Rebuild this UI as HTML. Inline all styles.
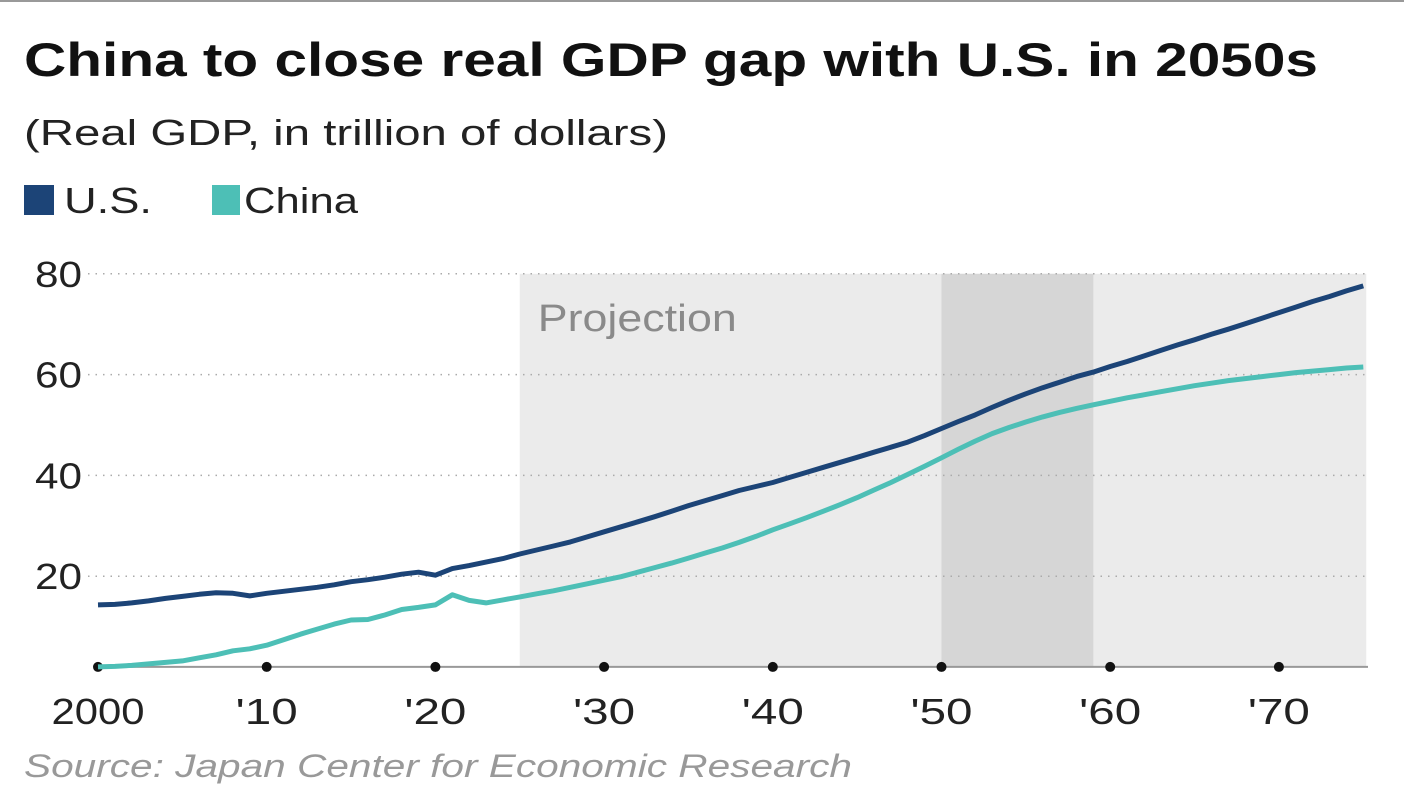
<!DOCTYPE html>
<html><head><meta charset="utf-8"><style>
body{margin:0;background:#fff;width:1404px;height:784px;overflow:hidden;font-family:"Liberation Sans",sans-serif}
</style></head><body>
<svg width="1404" height="784" xmlns="http://www.w3.org/2000/svg" font-family="Liberation Sans, sans-serif">
<line x1="0" y1="1" x2="1404" y2="1" stroke="#999" stroke-width="2"/>
<text x="24" y="76" font-size="47" font-weight="bold" fill="#111" textLength="1294" lengthAdjust="spacingAndGlyphs">China to close real GDP gap with U.S. in 2050s</text>
<text x="24" y="145" font-size="36" fill="#222" textLength="644" lengthAdjust="spacingAndGlyphs">(Real GDP, in trillion of dollars)</text>
<g>
<rect x="24" y="185" width="30" height="30" fill="#1c4477"/>
<text x="64" y="213" font-size="36" fill="#222" textLength="88" lengthAdjust="spacingAndGlyphs">U.S.</text>
<rect x="212" y="185" width="28" height="30" fill="#4dbfb6"/>
<text x="244" y="213" font-size="36" fill="#222" textLength="114" lengthAdjust="spacingAndGlyphs">China</text>
</g>
<g id="plot"></g>
<text x="24" y="777" font-size="32" font-style="italic" fill="#999" textLength="828" lengthAdjust="spacingAndGlyphs">Source: Japan Center for Economic Research</text>
</svg>
<script>
const years=[];for(let y=2000;y<=2075;y++)years.push(y);
const usValues=[14.3,14.4,14.7,15.1,15.6,16.0,16.4,16.7,16.6,16.1,16.6,17.0,17.4,17.8,18.3,18.9,19.3,19.8,20.4,20.8,20.2,21.5,22.1,22.8,23.5,24.4,25.2,26.0,26.8,27.8,28.8,29.8,30.8,31.8,32.9,34.0,35.0,36.0,37.0,37.8,38.6,39.6,40.6,41.6,42.6,43.6,44.6,45.6,46.6,47.9,49.3,50.7,52.0,53.5,54.9,56.2,57.4,58.5,59.6,60.5,61.6,62.6,63.7,64.8,65.9,66.9,68.0,69.0,70.1,71.2,72.3,73.4,74.5,75.5,76.6,77.6];
const chinaValues=[2.0,2.1,2.3,2.6,2.9,3.2,3.8,4.4,5.2,5.6,6.3,7.4,8.5,9.5,10.5,11.3,11.4,12.3,13.4,13.8,14.3,16.3,15.2,14.7,15.3,15.9,16.5,17.1,17.8,18.5,19.2,19.9,20.8,21.7,22.6,23.6,24.6,25.6,26.7,27.9,29.2,30.4,31.6,32.9,34.2,35.6,37.1,38.6,40.2,41.8,43.5,45.2,46.8,48.3,49.5,50.6,51.6,52.5,53.3,54.0,54.7,55.4,56.0,56.6,57.2,57.8,58.3,58.8,59.2,59.6,60.0,60.4,60.7,61.0,61.3,61.5];
const yTicks=[20,40,60,80];
const xTicks=[2000,2010,2020,2030,2040,2050,2060,2070];
const xTickLabels=["2000","'10","'20","'30","'40","'50","'60","'70"];
const projectionStart=2025, highlightStart=2050, highlightEnd=2059;
const NS="http://www.w3.org/2000/svg";
const x=v=>98+(v-2000)*16.87;
const y=v=>677-v*5.04;
const g=document.getElementById('plot');
function mk(t,a){const e=document.createElementNS(NS,t);for(const k in a)e.setAttribute(k,a[k]);g.appendChild(e);return e;}
let r=mk('rect',{x:x(projectionStart),y:y(80),width:x(2075)-x(projectionStart)+3,height:y(2)-y(80),fill:'#ebebeb'});


r=mk('rect',{x:x(highlightStart),y:y(80),width:x(highlightEnd)-x(highlightStart),height:y(2)-y(80),fill:'#d6d6d6'});


let t=mk('text',{x:x(projectionStart)+18,y:y(80)+57,'font-size':38,fill:'#8a8a8a',textLength:199,lengthAdjust:'spacingAndGlyphs'});t.textContent='Projection';


yTicks.forEach(v=>{
 let l=mk('line',{x1:88,x2:1368,y1:y(v),y2:y(v),stroke:'#aaa','stroke-width':1.5,'stroke-dasharray':'1.5 6'});
 
 
 let tx=mk('text',{x:82,y:y(v)+13,'font-size':36,fill:'#222','text-anchor':'end',textLength:47,lengthAdjust:'spacingAndGlyphs'});tx.textContent=v;
 
 
});
let ax=mk('line',{x1:98,x2:1368,y1:y(2),y2:y(2),stroke:'#999','stroke-width':2});


xTicks.forEach((v,i)=>{
 let c=mk('circle',{cx:x(v),cy:y(2),r:5,fill:'#111'});
 
 
 let w=i===0?93:62;
 let tx=mk('text',{x:x(v)-w/2,y:724,'font-size':36,fill:'#222',textLength:w,lengthAdjust:'spacingAndGlyphs'});tx.textContent=xTickLabels[i];
 
 
});
function line(vals,color,name){
 const d=vals.map((v,i)=>(i?'L':'M')+x(years[i]).toFixed(1)+','+y(v).toFixed(1)).join('');
 const p=mk('path',{d:d,fill:'none',stroke:color,'stroke-width':5,'stroke-linejoin':'round'});
 
 
}
line(chinaValues,'#4dbfb6','china-line');
line(usValues,'#1c4477','us-line');
</script>
</body></html>
